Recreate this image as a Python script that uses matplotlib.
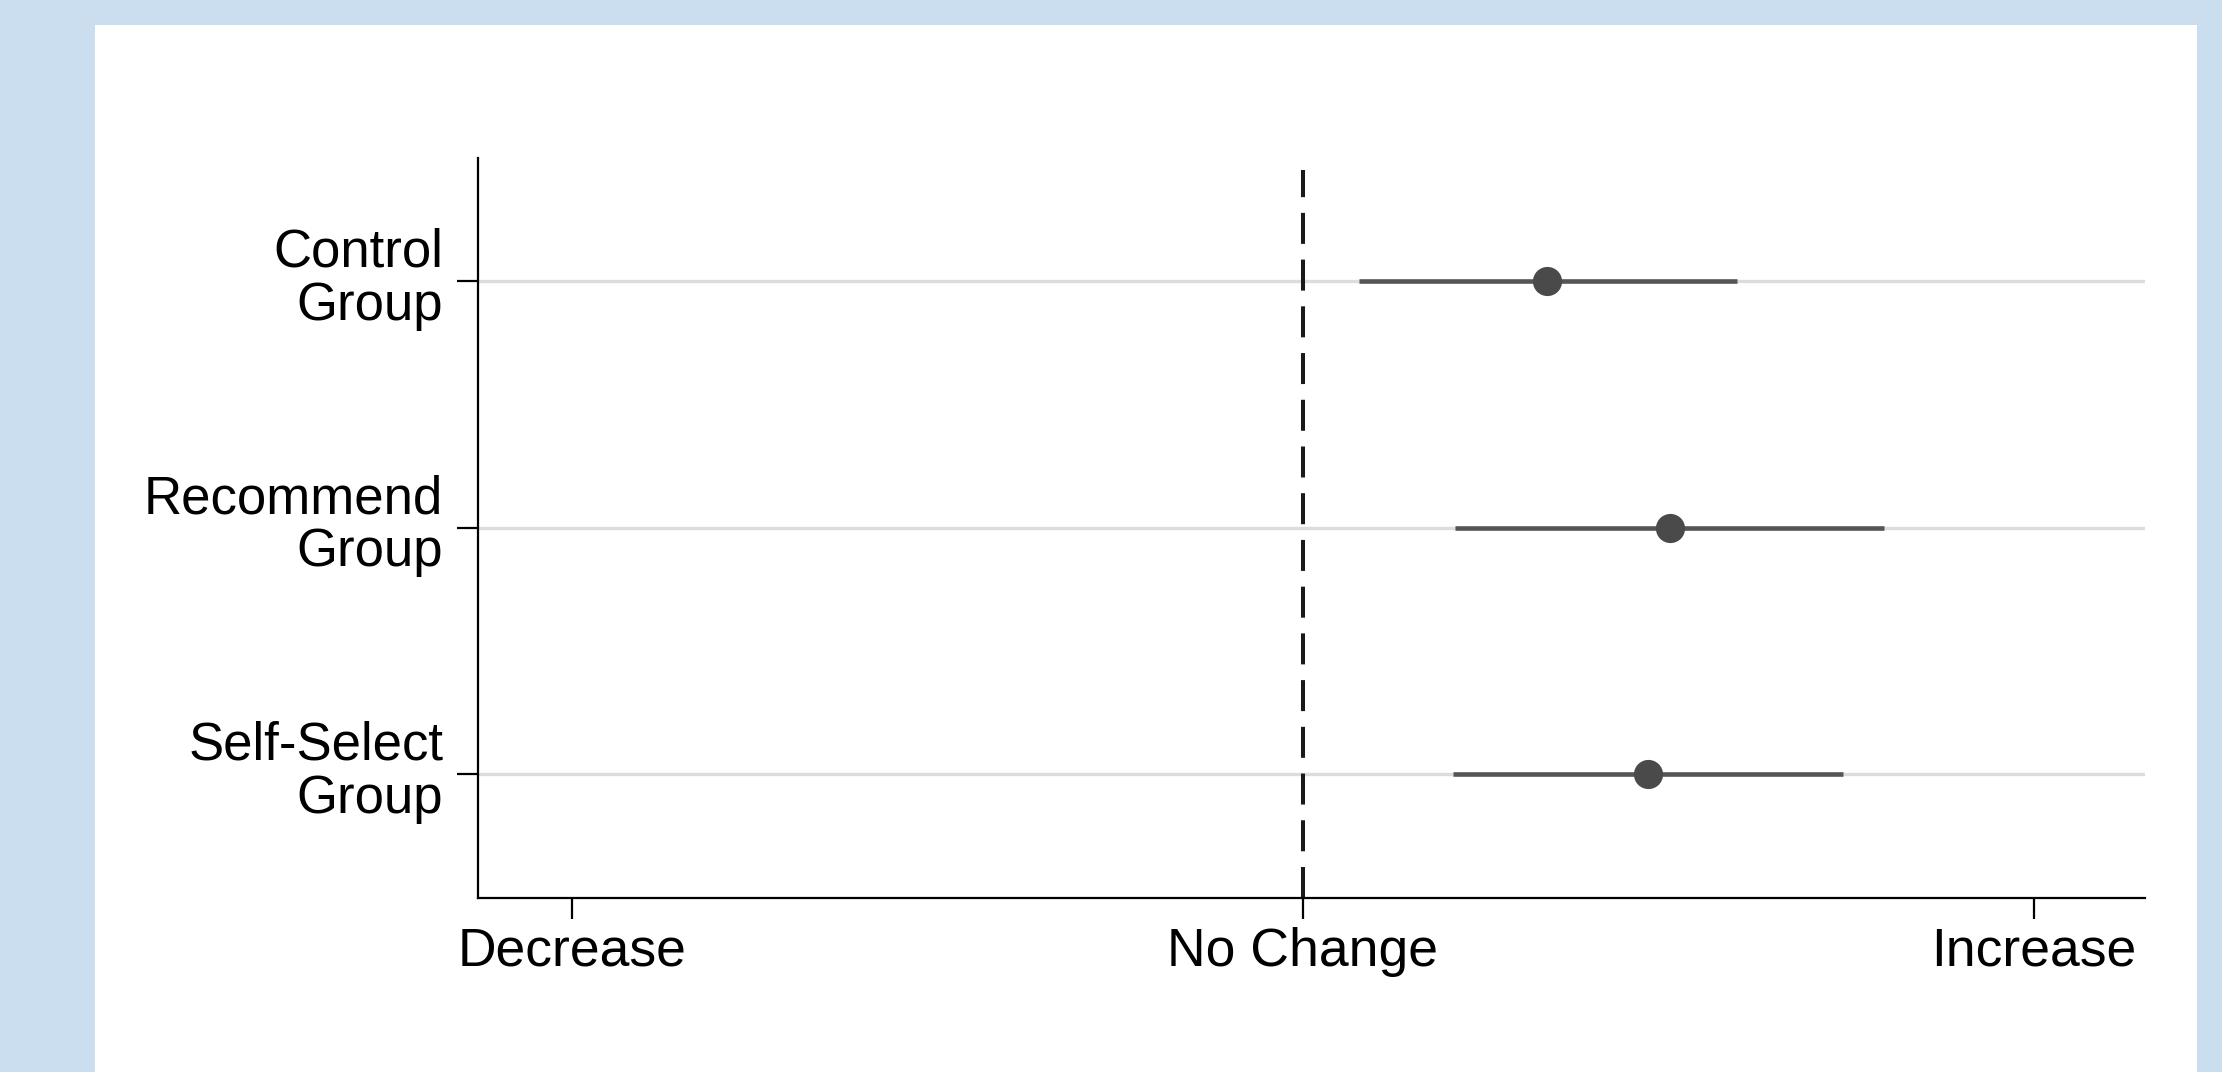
import matplotlib
matplotlib.use("Agg")
import matplotlib.pyplot as plt
from matplotlib.patches import Rectangle
from matplotlib.transforms import ScaledTranslation

# Estimated change by group with confidence intervals
groups = ["Control\nGroup", "Recommend\nGroup", "Self-Select\nGroup"]
estimates = [0.334, 0.502, 0.472]
ci_low = [0.077, 0.208, 0.205]
ci_high = [0.594, 0.795, 0.739]

x_ticks = [-1, 0, 1]
x_tick_labels = ["Decrease", "No Change", "Increase"]

plt.rcParams["font.family"] = ["Liberation Sans", "DejaVu Sans"]

W, H, DPI = 2222, 1072, 100
fig = plt.figure(figsize=(W / DPI, H / DPI), dpi=DPI)
fig.patch.set_facecolor("#cbdeef")

# White plot region framed by the blue border
fig.patches.append(Rectangle((95 / W, 0), (2197 - 95) / W, 1 - 25 / H,
                             transform=fig.transFigure, facecolor="white",
                             edgecolor="none", zorder=-10))

ax = fig.add_axes([478 / W, 1 - 897.7 / H, (2145 - 478) / W, (897.7 - 158) / H])
ax.set_facecolor("none")
ax.set_zorder(5)

ypos = [3, 2, 1]
ax.set_ylim(0.5, 3.5)
ax.set_xlim(-1.128, 1.152)

# Light horizontal guide lines through each group
for y in ypos:
    ax.axhline(y, color="#dcdcdc", lw=2.4, zorder=1)

# Reference line at no change
ax.plot([0, 0], [0.5, 3.453], color="#1a1a1a", lw=2.9,
        linestyle=(0, (7.7, 3.9)), zorder=2, solid_capstyle="butt",
        dash_capstyle="butt")

# Confidence intervals and point estimates
for y, lo, hi, est in zip(ypos, ci_low, ci_high, estimates):
    ax.plot([lo, hi], [y, y], color="#555555", lw=3.3, zorder=3,
            solid_capstyle="butt")
    ax.plot(est, y, "o", color="#4a4a4a", markersize=21, zorder=4,
            markeredgewidth=0)

ax.set_yticks(ypos)
ax.set_yticklabels(groups, ha="right", linespacing=1.08, fontsize=38)
ax.set_xticks(x_ticks)
ax.set_xticklabels(x_tick_labels, fontsize=38.5)

ax.tick_params(axis="both", colors="black", width=1.6, length=15)
ax.tick_params(axis="y", pad=10)
ax.tick_params(axis="x", pad=6)

# Nudge the two-line group labels slightly upward
lift = ScaledTranslation(0, 9 / DPI, fig.dpi_scale_trans)
for lbl in ax.get_yticklabels():
    lbl.set_transform(lbl.get_transform() + lift)

for side in ["top", "right"]:
    ax.spines[side].set_visible(False)
for side in ["left", "bottom"]:
    ax.spines[side].set_linewidth(1.6)
    ax.spines[side].set_color("black")

fig.savefig("out.png", dpi=DPI, facecolor=fig.get_facecolor())
